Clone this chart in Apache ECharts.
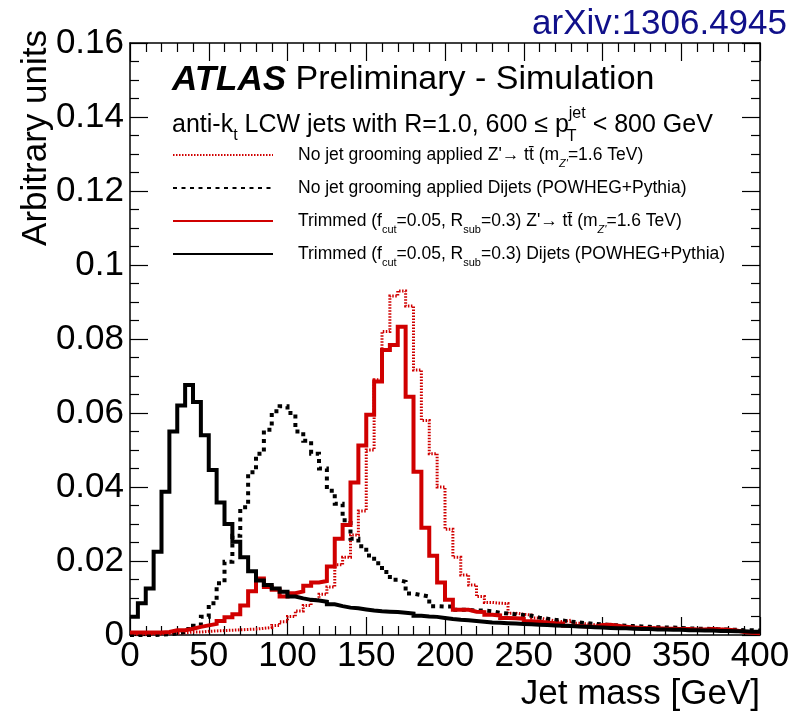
<!DOCTYPE html>
<html>
<head>
<meta charset="utf-8">
<script src="https://cdn.jsdelivr.net/npm/echarts@6.0.0/dist/echarts.min.js"></script>
<style>
html,body{margin:0;padding:0;background:#fff;}
#chart{width:790px;height:715px;}
</style>
</head>
<body>
<div id="chart"></div>
<script>
// ---- data (bins of 5 GeV from 0 to 400 GeV) ----
const binWidth = 5;
const xRange = [0, 400];
const yRange = [0, 0.16];
const xTickValues = [0, 50, 100, 150, 200, 250, 300, 350, 400];
const yTickValues = [0, 0.02, 0.04, 0.06, 0.08, 0.1, 0.12, 0.14, 0.16];

const seriesNames = [
  "No jet grooming applied Z'→ tt̄ (mZ'=1.6 TeV)",
  "No jet grooming applied Dijets (POWHEG+Pythia)",
  "Trimmed (fcut=0.05, Rsub=0.3) Z'→ tt̄ (mZ'=1.6 TeV)",
  "Trimmed (fcut=0.05, Rsub=0.3) Dijets (POWHEG+Pythia)"
];
const legendLabels = [
  "{pad| }No jet grooming applied Z'→ tt\u0304 (m{subi|Z'}=1.6 TeV)",
  "{pad| }No jet grooming applied Dijets (POWHEG+Pythia)",
  "{pad| }Trimmed (f{sub|cut}=0.05, R{sub|sub}=0.3) Z'→ tt\u0304 (m{subi|Z'}=1.6 TeV)",
  "{pad| }Trimmed (f{sub|cut}=0.05, R{sub|sub}=0.3) Dijets (POWHEG+Pythia)"
];

// No grooming, Z' -> ttbar (red dotted)
const ungroomedZprime = [
  0.0002,0.0002,0.0003,0.0003,0.0004,0.0005,0.0006,0.0008,0.0008,0.0010,
  0.0011,0.0012,0.0013,0.0014,0.0015,0.0016,0.0018,0.0020,0.0026,0.0036,
  0.0050,0.0065,0.0080,0.0095,0.0110,0.0130,0.0190,0.0210,0.0270,0.0335,
  0.0500,0.0690,0.0820,0.0916,0.0930,0.0889,0.0716,0.0580,0.0490,0.0400,
  0.0286,0.0210,0.0162,0.0135,0.0104,0.0088,0.0086,0.0085,0.0059,0.0056,
  0.0054,0.0046,0.0042,0.0038,0.0036,0.0040,0.0032,0.0030,0.0028,0.0026,
  0.0025,0.0023,0.0022,0.0021,0.0020,0.0020,0.0019,0.0018,0.0017,0.0016,
  0.0016,0.0015,0.0015,0.0018,0.0016,0.0014,0.0012,0.0010,0.0009,0.0008
];
// No grooming, dijets (black dotted)
const ungroomedDijets = [
  0.0000,0.0000,0.0000,0.0001,0.0002,0.0004,0.0008,0.0016,0.0025,0.0049,
  0.0086,0.0140,0.0198,0.0268,0.0345,0.0440,0.0490,0.0555,0.0605,0.0618,
  0.0600,0.0550,0.0525,0.0490,0.0450,0.0390,0.0355,0.0310,0.0260,0.0240,
  0.0215,0.0194,0.0170,0.0149,0.0144,0.0112,0.0108,0.0104,0.0078,0.0077,
  0.0077,0.0068,0.0068,0.0066,0.0066,0.0064,0.0060,0.0058,0.0056,0.0054,
  0.0052,0.0047,0.0044,0.0041,0.0039,0.0036,0.0034,0.0032,0.0030,0.0029,
  0.0027,0.0026,0.0025,0.0024,0.0023,0.0022,0.0021,0.0020,0.0020,0.0019,
  0.0018,0.0017,0.0017,0.0016,0.0015,0.0015,0.0014,0.0013,0.0013,0.0012
];
// Trimmed, Z' -> ttbar (red solid)
const trimmedZprime = [
  0.0007,0.0007,0.0007,0.0007,0.0008,0.0013,0.0013,0.0017,0.0022,0.0026,
  0.0030,0.0038,0.0048,0.0056,0.0080,0.0118,0.0153,0.0130,0.0122,0.0104,
  0.0113,0.0118,0.0133,0.0142,0.0146,0.0185,0.0260,0.0297,0.0412,0.0512,
  0.0595,0.0685,0.0770,0.0784,0.0833,0.0644,0.0441,0.0290,0.0214,0.0142,
  0.0095,0.0068,0.0068,0.0063,0.0062,0.0055,0.0053,0.0046,0.0045,0.0044,
  0.0037,0.0036,0.0034,0.0032,0.0031,0.0025,0.0024,0.0023,0.0022,0.0027,
  0.0028,0.0025,0.0022,0.0020,0.0019,0.0018,0.0018,0.0017,0.0017,0.0016,
  0.0016,0.0015,0.0015,0.0016,0.0015,0.0014,0.0012,0.0008,0.0006,0.0005
];
// Trimmed, dijets (black solid)
const trimmedDijets = [
  0.0049,0.0086,0.0126,0.0225,0.0387,0.0550,0.0620,0.0676,0.0630,0.0540,
  0.0446,0.0358,0.0300,0.0252,0.0210,0.0172,0.0147,0.0135,0.0126,0.0117,
  0.0104,0.0099,0.0095,0.0093,0.0090,0.0083,0.0078,0.0074,0.0072,0.0069,
  0.0066,0.0064,0.0063,0.0062,0.0060,0.0058,0.0052,0.0050,0.0049,0.0046,
  0.0043,0.0041,0.0040,0.0038,0.0036,0.0034,0.0033,0.0032,0.0031,0.0030,
  0.0029,0.0028,0.0027,0.0026,0.0025,0.0024,0.0023,0.0022,0.0021,0.0020,
  0.0019,0.0018,0.0018,0.0017,0.0016,0.0016,0.0015,0.0015,0.0014,0.0014,
  0.0013,0.0013,0.0012,0.0012,0.0011,0.0011,0.0010,0.0010,0.0009,0.0009
];

// ---- build step data (bin low edge -> value, closed at upper edge) ----
function toSteps(vals) {
  const pts = vals.map((v, i) => [xRange[0] + i * binWidth, v]);
  pts.push([xRange[0] + vals.length * binWidth, vals[vals.length - 1]]);
  return pts;
}

const FONT = '"Liberation Sans", Arial, Helvetica, sans-serif';
const RED = '#d00000';

const chart = echarts.init(document.getElementById('chart'), null, {renderer: 'canvas'});

function axisCommon(showLabel) {
  return {
    axisLine: {show: true, onZero: false, lineStyle: {color: '#000', width: 1.5}},
    axisTick: {show: true, inside: true, length: 18, lineStyle: {color: '#000', width: 1.2}},
    minorTick: {show: true, length: 9, lineStyle: {color: '#000', width: 1.2}},
    splitLine: {show: false},
    minorSplitLine: {show: false},
    axisLabel: {show: showLabel, color: '#000', fontFamily: FONT, fontSize: 35}
  };
}

const xBase = Object.assign(axisCommon(true), {
  type: 'value', min: xRange[0], max: xRange[1], interval: 50
});
xBase.minorTick.splitNumber = 5;
xBase.axisLabel.margin = 4;
xBase.axisLabel.formatter = v => (xTickValues.indexOf(v) >= 0 ? String(v) : '');

const xTop = Object.assign(axisCommon(false), {
  type: 'value', min: xRange[0], max: xRange[1], interval: 50, position: 'top'
});
xTop.minorTick.splitNumber = 5;

const yBase = Object.assign(axisCommon(true), {
  type: 'value', min: yRange[0], max: yRange[1], interval: 0.02
});
yBase.minorTick.splitNumber = 4;
yBase.axisLabel.margin = 6;
yBase.axisLabel.formatter = v => String(+v.toFixed(2));

const yRight = Object.assign(axisCommon(false), {
  type: 'value', min: yRange[0], max: yRange[1], interval: 0.02, position: 'right'
});
yRight.minorTick.splitNumber = 4;

const styles = [
  {color: RED, width: 3, type: [1.5, 1.5]},
  {color: '#000', width: 4, type: [4, 4.5]},
  {color: RED, width: 4, type: 'solid'},
  {color: '#000', width: 4, type: 'solid'}
];
const values = [ungroomedZprime, ungroomedDijets, trimmedZprime, trimmedDijets];

const series = values.map((vals, i) => ({
  name: seriesNames[i],
  type: 'line',
  step: 'end',
  xAxisIndex: 0,
  yAxisIndex: 0,
  data: toSteps(vals),
  symbol: 'none',
  showSymbol: false,
  clip: true,
  animation: false,
  lineStyle: {color: styles[i].color, width: styles[i].width, type: styles[i].type, cap: 'butt', join: 'miter'},
  itemStyle: {color: styles[i].color},
  z: 2 + i
}));

// measure where "p" of p_T^jet falls on the kinematics line
const mctx = document.createElement('canvas').getContext('2d');
function tw(txt, size) { mctx.font = size + 'px ' + FONT; return mctx.measureText(txt).width; }
const kinX = 172;
const pX = kinX + tw('anti-k', 25) + tw('t', 16) + tw(' LCW jets with R=1.0, 600 ≤ ', 25);

const option = {
  backgroundColor: '#fff',
  animation: false,
  grid: {left: 130, right: 30, top: 43, bottom: 80, containLabel: false, outerBoundsMode: 'none', show: false},
  xAxis: [xBase, xTop],
  yAxis: [yBase, yRight],
  legend: {
    show: true,
    orient: 'vertical',
    left: 172,
    top: 141,
    itemWidth: 100,
    itemHeight: 14,
    itemGap: 5,
    padding: 0,
    selectedMode: false,
    data: seriesNames,
    itemStyle: {opacity: 0, borderWidth: 0},
    formatter: name => legendLabels[seriesNames.indexOf(name)],
    textStyle: {
      fontFamily: FONT, fontSize: 17.5, color: '#000', lineHeight: 28,
      rich: {
        pad: {width: 20, fontSize: 17.5, lineHeight: 28},
        sub: {fontSize: 11, lineHeight: 11, verticalAlign: 'bottom'},
        subi: {fontSize: 11, lineHeight: 11, verticalAlign: 'bottom', fontStyle: 'italic'}
      }
    }
  },
  graphic: [
    {type: 'text', x: 787, y: 24, z: 10,
     style: {text: 'arXiv:1306.4945', font: '35px ' + FONT, fill: '#10108a',
             align: 'right', textAlign: 'right', verticalAlign: 'middle', textVerticalAlign: 'middle'}},
    {type: 'text', x: 172, y: 80, z: 10,
     style: {text: '{a|ATLAS} Preliminary - Simulation', font: '34px ' + FONT, fill: '#000',
             align: 'left', textAlign: 'left', verticalAlign: 'middle', textVerticalAlign: 'middle',
             rich: {a: {fontWeight: 'bold', fontStyle: 'italic', fontSize: 35, fontFamily: FONT}}}},
    {type: 'text', x: kinX, y: 125, z: 10,
     style: {text: 'anti-k{sub|t} LCW jets with R=1.0, 600 ≤ p{sup|jet} < 800 GeV', font: '25px ' + FONT, fill: '#000',
             lineHeight: 38,
             align: 'left', textAlign: 'left', verticalAlign: 'middle', textVerticalAlign: 'middle',
             rich: {sub: {fontSize: 16, lineHeight: 16, verticalAlign: 'bottom', fontFamily: FONT},
                    sup: {fontSize: 16, lineHeight: 16, verticalAlign: 'top', fontFamily: FONT}}}},
    {type: 'text', x: pX + tw('p', 25) - 2, y: 137, z: 10,
     style: {text: 'T', font: '16px ' + FONT, fill: '#000',
             align: 'left', textAlign: 'left', verticalAlign: 'middle', textVerticalAlign: 'middle'}},
    {type: 'text', x: 36, y: 30, rotation: Math.PI / 2, z: 10,
     style: {text: 'Arbitrary units', font: '35px ' + FONT, fill: '#000',
             align: 'right', textAlign: 'right', verticalAlign: 'middle', textVerticalAlign: 'middle'}},
    {type: 'text', x: 760, y: 694, z: 10,
     style: {text: 'Jet mass [GeV]', font: '35px ' + FONT, fill: '#000',
             align: 'right', textAlign: 'right', verticalAlign: 'middle', textVerticalAlign: 'middle'}}
  ],
  series: series
};

chart.setOption(option);
</script>
</body>
</html>
